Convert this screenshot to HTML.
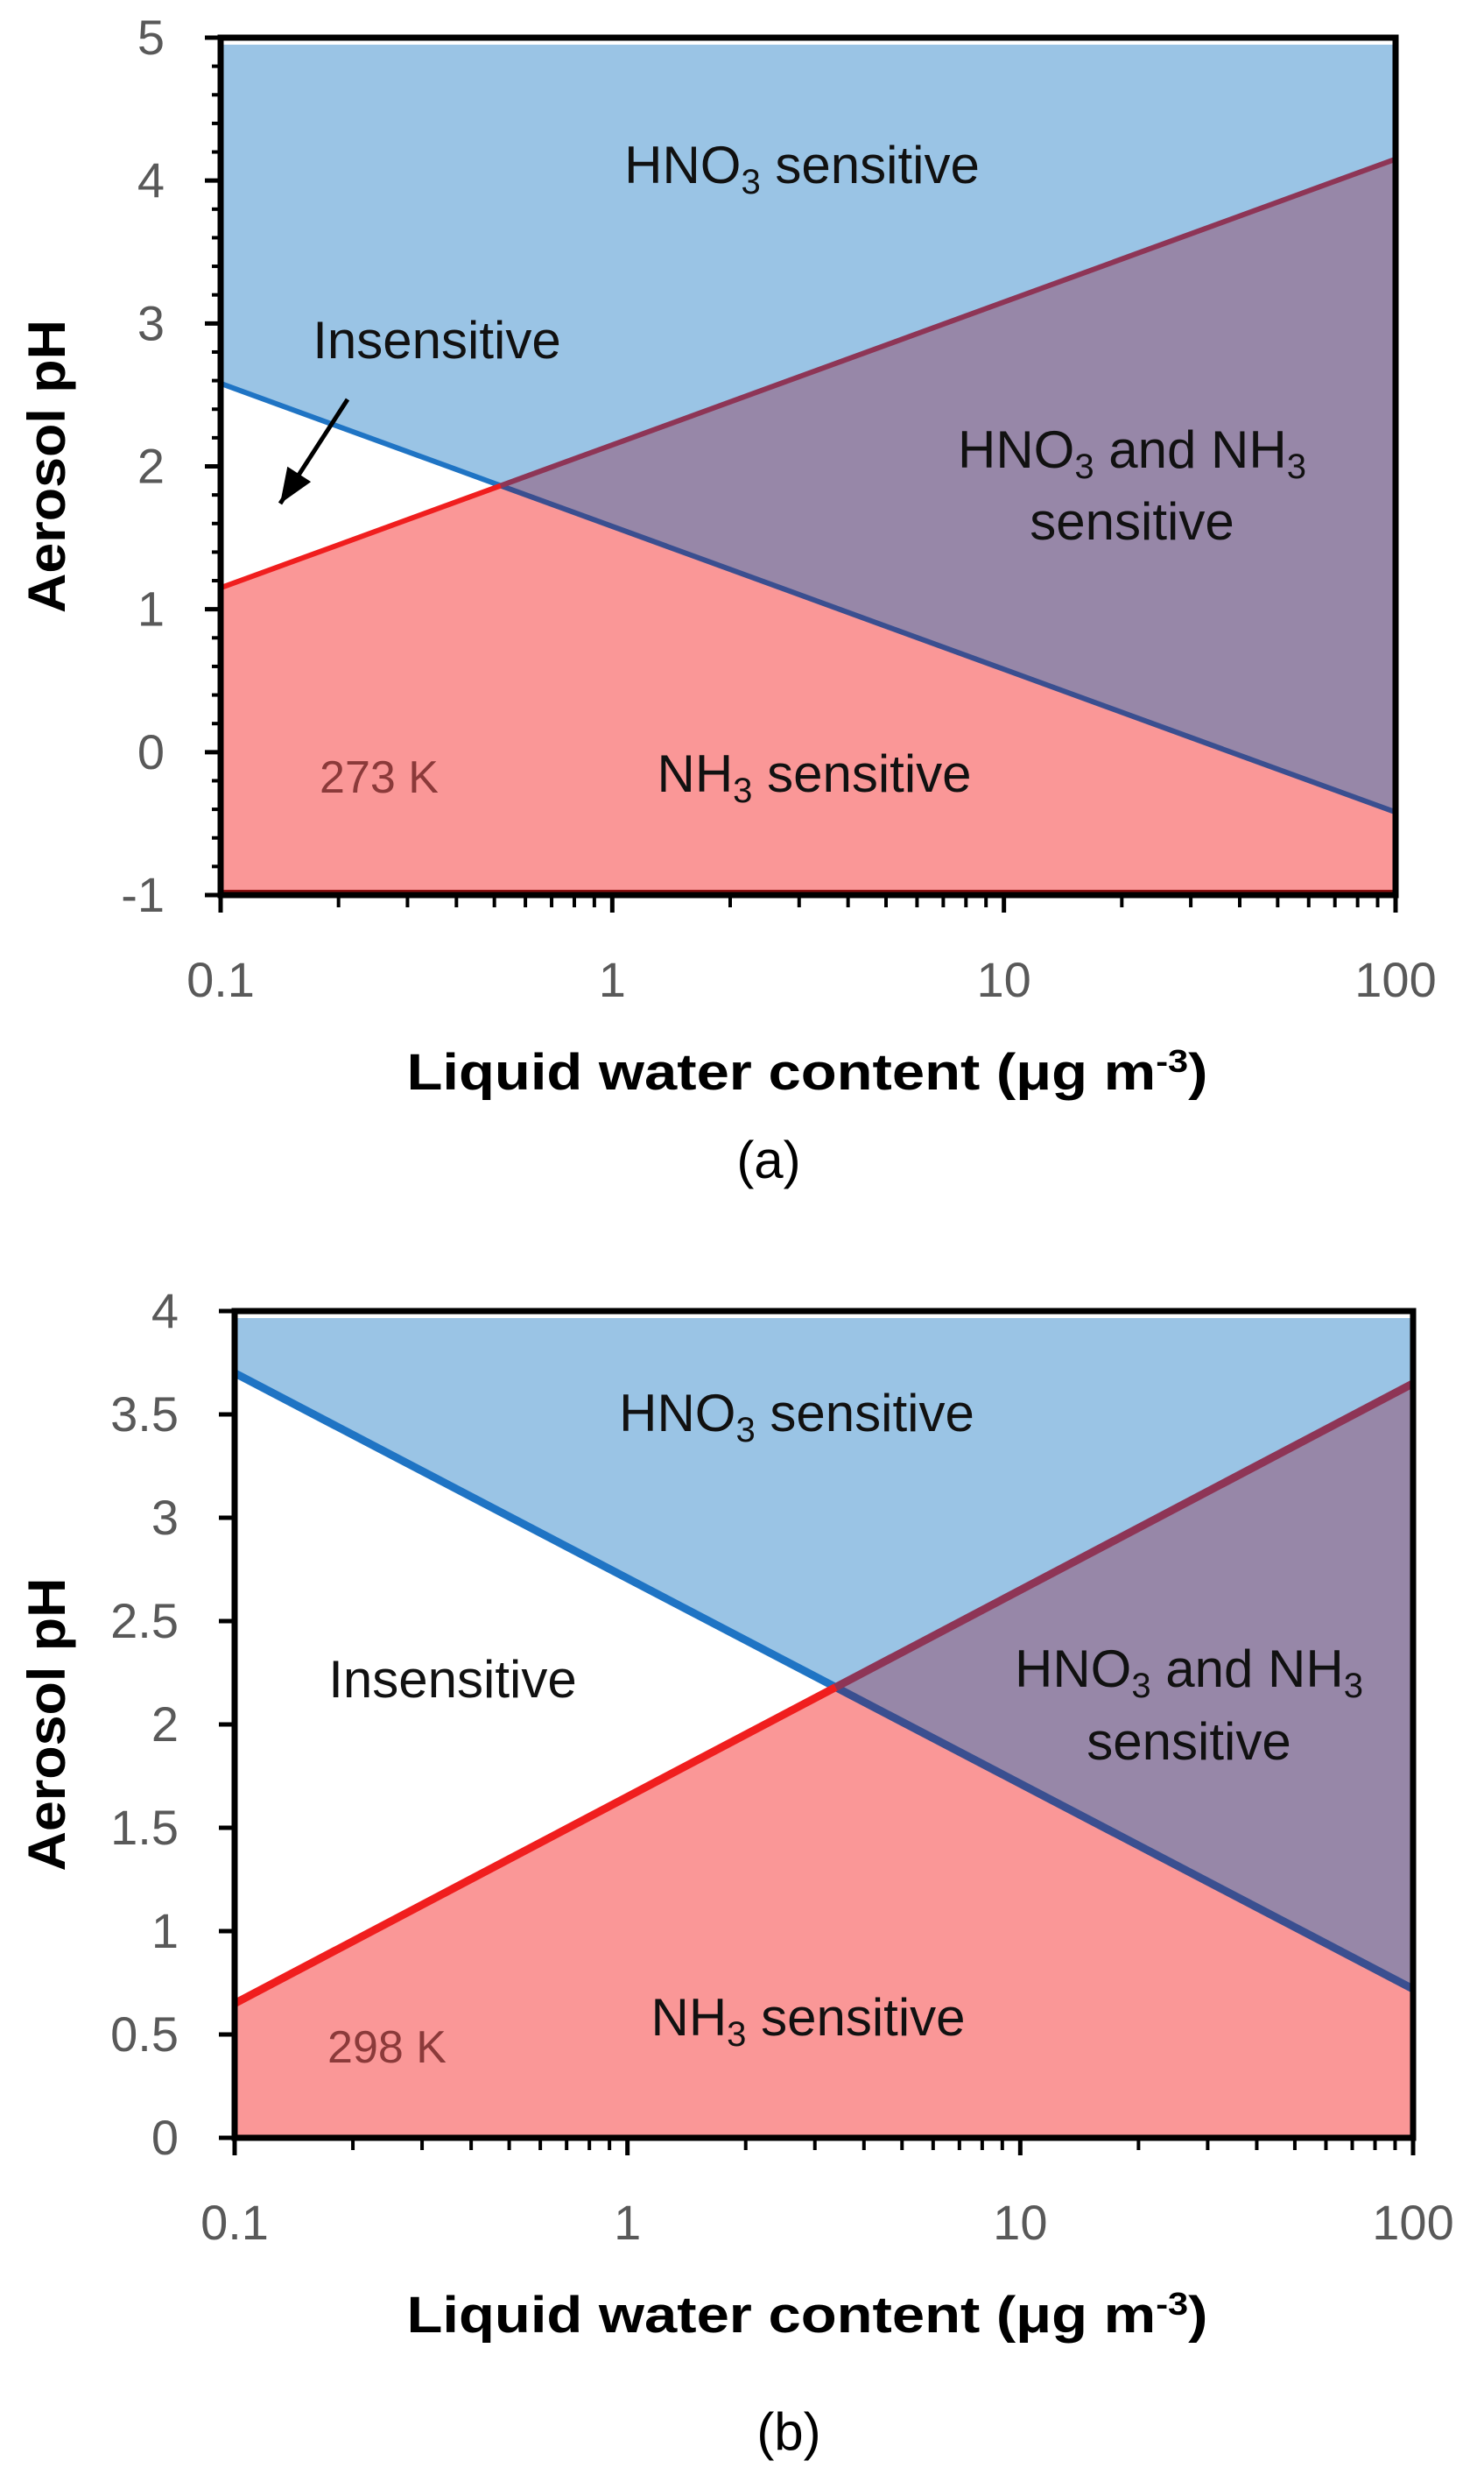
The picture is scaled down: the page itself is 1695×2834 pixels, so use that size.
<!DOCTYPE html>
<html><head><meta charset="utf-8"><style>
html,body{margin:0;padding:0;background:#fff;}
svg{display:block;font-family:"Liberation Sans",sans-serif;}
</style></head><body>
<svg id="fig" width="1695" height="2834" viewBox="0 0 1695 2834" xmlns="http://www.w3.org/2000/svg"></svg>
<script>
// Panel (a) data (273 K)
const aYTicks = [-1, 0, 1, 2, 3, 4, 5];
const aBlueLine = [2.58, -0.42];   // pH at LWC 0.1 and 100
const aRedLine = [1.15, 4.15];
// Panel (b) data (298 K)
const bYTicks = [0, 0.5, 1, 1.5, 2, 2.5, 3, 3.5, 4];
const bBlueLine = [3.7, 0.72];
const bRedLine = [0.65, 3.65];
const xTicks = [0.1, 1, 10, 100];
const xTickLabels = ["0.1", "1", "10", "100"];
const lwcEnds = [0.1, 100];

const NS = "http://www.w3.org/2000/svg";
const svg = document.getElementById("fig");
function mk(tag, attrs, parent) {
  const e = document.createElementNS(NS, tag);
  for (const k in attrs) e.setAttribute(k, attrs[k]);
  (parent || svg).appendChild(e);
  return e;
}

function panel(cfg) {
  const g = mk("g", {});
  
  
  const yMin = cfg.yTicks[0], yMax = cfg.yTicks[cfg.yTicks.length - 1];
  const X = v => cfg.x0 + (Math.log10(v) - Math.log10(lwcEnds[0])) / (Math.log10(lwcEnds[1]) - Math.log10(lwcEnds[0])) * (cfg.x1 - cfg.x0);
  const Y = v => cfg.y1 - (v - yMin) / (yMax - yMin) * (cfg.y1 - cfg.y0);
  const bx0 = X(lwcEnds[0]), bx1 = X(lwcEnds[1]);
  const b0 = cfg.blue[0], b1 = cfg.blue[1], r0 = cfg.red[0], r1 = cfg.red[1];
  const t = (r0 - b0) / ((b1 - b0) - (r1 - r0));
  const ix = bx0 + t * (bx1 - bx0), iy = Y(b0 + t * (b1 - b0));
  const topY = Y(yMax) + 8;
  const blue = mk("polygon", {points: `${bx0},${topY} ${bx1},${topY} ${bx1},${Y(r1)} ${ix},${iy} ${bx0},${Y(b0)}`, fill: "#9ac4e5"}, g);
  
  
  const pink = mk("polygon", {points: `${bx0},${Y(yMin)} ${bx1},${Y(yMin)} ${bx1},${Y(b1)} ${ix},${iy} ${bx0},${Y(r0)}`, fill: "#fa9797"}, g);
  
  
  const purple = mk("polygon", {points: `${ix},${iy} ${bx1},${Y(r1)} ${bx1},${Y(b1)}`, fill: "#9787a8"}, g);
  
  
  const bl1 = mk("line", {x1: bx0, y1: Y(b0), x2: ix, y2: iy, stroke: "#1f74c4", "stroke-width": cfg.lw}, g);
  
  
  const bl2 = mk("line", {x1: ix, y1: iy, x2: bx1, y2: Y(b1), stroke: "#3a4f90", "stroke-width": cfg.lw}, g);
  
  
  const rl1 = mk("line", {x1: bx0, y1: Y(r0), x2: ix, y2: iy, stroke: "#f01e1e", "stroke-width": cfg.lw}, g);
  
  
  const rl2 = mk("line", {x1: ix, y1: iy, x2: bx1, y2: Y(r1), stroke: "#8e3556", "stroke-width": cfg.lw}, g);
  
  
  if (cfg.bottomRed) {
    const br = mk("line", {x1: bx0, y1: Y(yMin) - 3, x2: bx1, y2: Y(yMin) - 3, stroke: "#8b1010", "stroke-width": 6}, g);
    
    
  }
  const fr = mk("rect", {x: cfg.x0, y: cfg.y0, width: cfg.x1 - cfg.x0, height: cfg.y1 - cfg.y0, fill: "none", stroke: "#000", "stroke-width": 7}, g);
  
  
  cfg.yTicks.forEach((v, i) => {
    const tk = mk("line", {x1: cfg.x0 - 18, y1: Y(v), x2: cfg.x0, y2: Y(v), stroke: "#000", "stroke-width": 5}, g);
    
    
    const tl = mk("text", {x: cfg.x0 - 64, y: Y(v) + 19, "text-anchor": "end", "font-size": 56, fill: "#595959"}, g);
    tl.textContent = cfg.yLabels[i];
    
    
    if (cfg.minorY && i < cfg.yTicks.length - 1) {
      for (let k = 1; k < 5; k++) {
        const mv = v + k * (cfg.yTicks[i + 1] - v) / 5;
        const mt = mk("line", {x1: cfg.x0 - 10, y1: Y(mv), x2: cfg.x0, y2: Y(mv), stroke: "#000", "stroke-width": 4}, g);
        
        
      }
    }
  });
  xTicks.forEach((v, i) => {
    const tk = mk("line", {x1: X(v), y1: cfg.y1, x2: X(v), y2: cfg.y1 + 20, stroke: "#000", "stroke-width": 5}, g);
    
    
    const tl = mk("text", {x: X(v), y: cfg.y1 + 116, "text-anchor": "middle", "font-size": 56, fill: "#595959"}, g);
    tl.textContent = xTickLabels[i];
    
    
    if (i < xTicks.length - 1) {
      for (let k = 2; k < 10; k++) {
        const mt = mk("line", {x1: X(v * k), y1: cfg.y1, x2: X(v * k), y2: cfg.y1 + 14, stroke: "#000", "stroke-width": 4}, g);
        
        
      }
    }
  });
  const yt = mk("text", {x: 0, y: 0, transform: `translate(74 ${(cfg.y0 + cfg.y1) / 2}) rotate(-90)`, "text-anchor": "middle", "font-size": 60, "font-weight": "bold", fill: "#000", textLength: 335, lengthAdjust: "spacingAndGlyphs"}, g);
  yt.textContent = "Aerosol pH";
  
  
  const xt = mk("text", {x: 922, y: cfg.y1 + 222, "text-anchor": "middle", "font-size": 58, "font-weight": "bold", fill: "#000", textLength: 915, lengthAdjust: "spacingAndGlyphs"}, g);
  xt.innerHTML = 'Liquid  water content (μg m<tspan baseline-shift="super" font-size="36">-3</tspan>)';
  
  
  const pl = mk("text", {x: cfg.capX, y: cfg.capY, "text-anchor": "middle", "font-size": 60, fill: "#000"}, g);
  pl.textContent = cfg.cap;
  
  
  function lab(x, y, text, name, size, color) {
    const e = mk("text", {x: x, y: y, "text-anchor": "middle", "font-size": size || 60, fill: color || "#111"}, g);
    e.innerHTML = text.replace(/_(\d)/g, (m, d) => `<tspan baseline-shift="-12" font-size="40">${d}</tspan>`);
    
    
  }
  cfg.labels.forEach(l => lab(l[0], l[1], l[2], l[3], l[4], l[5]));
  if (cfg.arrow) {
    const a = cfg.arrow;
    const ar = mk("line", {x1: a[0], y1: a[1], x2: a[2], y2: a[3], stroke: "#000", "stroke-width": 5}, g);
    
    
    const ang = Math.atan2(a[3] - a[1], a[2] - a[0]);
    const p = (d, o) => [a[2] - d * Math.cos(ang) + o * Math.sin(ang), a[3] - d * Math.sin(ang) - o * Math.cos(ang)];
    const h1 = p(40, 16), h2 = p(40, -16);
    const ah = mk("polygon", {points: `${a[2]},${a[3]} ${h1[0]},${h1[1]} ${h2[0]},${h2[1]}`, fill: "#000"}, g);
    
    
  }
}

panel({name: "panel-a", x0: 252, x1: 1594, y0: 43, y1: 1022, yTicks: aYTicks, yLabels: aYTicks.map(String),
  blue: aBlueLine, red: aRedLine, lw: 6, minorY: true, bottomRed: true, cap: "(a)", capX: 878, capY: 1345,
  arrow: [397, 456, 320, 575],
  labels: [[916, 209, "HNO_3 sensitive", "hno3-sensitive-label"], [499, 409, "Insensitive", "insensitive-label"],
    [1293, 534, "HNO_3 and NH_3", "both-sensitive-label"], [1293, 616, "sensitive", "both-sensitive-label-2"],
    [930, 904, "NH_3 sensitive", "nh3-sensitive-label"], [433, 905, "273 K", "temperature-label", 52, "#8b3a3a"]]});

panel({name: "panel-b", x0: 268, x1: 1614, y0: 1497, y1: 2441, yTicks: bYTicks, yLabels: bYTicks.map(String),
  blue: bBlueLine, red: bRedLine, lw: 9, minorY: false, bottomRed: false, cap: "(b)", capX: 901, capY: 2797,
  labels: [[910, 1634, "HNO_3 sensitive", "hno3-sensitive-label"], [517, 1938, "Insensitive", "insensitive-label"],
    [1358, 1926, "HNO_3 and NH_3", "both-sensitive-label"], [1358, 2009, "sensitive", "both-sensitive-label-2"],
    [923, 2324, "NH_3 sensitive", "nh3-sensitive-label"], [442, 2355, "298 K", "temperature-label", 52, "#8b3a3a"]]});
</script>
</body></html>
